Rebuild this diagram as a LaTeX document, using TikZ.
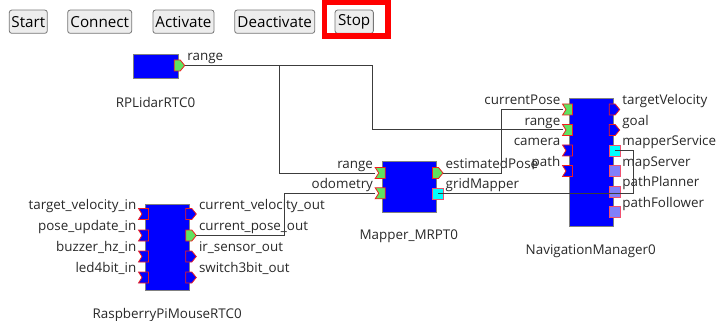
\documentclass[tikz,border=0pt]{standalone}
\usepackage{fontspec}
\setmainfont{Open Sans}
\usetikzlibrary{calc}
\definecolor{compblue}{RGB}{0,0,255}
\definecolor{compborder}{RGB}{128,128,128}
\definecolor{portgreen}{RGB}{96,226,96}
\definecolor{portred}{RGB}{240,30,30}
\definecolor{svccyan}{RGB}{0,255,255}
\definecolor{svcpurple}{RGB}{128,128,250}
\definecolor{svcborder}{RGB}{240,80,110}
\definecolor{wirecol}{RGB}{60,60,60}
\definecolor{btnfill}{RGB}{237,237,237}
\definecolor{btnborder}{RGB}{118,118,118}
\definecolor{hilite}{RGB}{255,0,0}
\definecolor{txt}{RGB}{40,40,40}

\tikzset{
  comp/.style={draw=compborder, fill=compblue, line width=0.8pt, inner sep=0pt, anchor=north west},
  portline/.style={draw=portred, line width=0.8pt, line join=miter},
  svcline/.style={draw=svcborder, line width=0.8pt},
  wire/.style={draw=wirecol, line width=1pt},
  lbl/.style={font=\fontsize{13.4}{15}\selectfont, text=txt, inner sep=0pt},
  btn/.style={draw=btnborder, fill=btnfill, rounded corners=2.5pt, line width=0.8pt,
    font=\fontsize{15.2}{17}\selectfont, text=black, inner sep=0pt, minimum height=23.3pt},
  hibox/.style={draw=hilite, line width=5.5pt}
}

\newcommand\inport[4]{%
  \coordinate (#1) at ({#2-6.5},#3);
  \filldraw[portline,fill=#4] ({#2-6.5},{#3-5.5}) -- ({#2+3.5},{#3-5.5}) -- ({#2+3.5},{#3+5.5}) -- ({#2-6.5},{#3+5.5}) -- ({#2-3},#3) -- cycle;}
\newcommand\outport[4]{%
  \coordinate (#1) at ({#2+7},#3);
  \filldraw[portline,fill=#4] ({#2-3.5},{#3-5.5}) -- ({#2+2.5},{#3-5.5}) -- ({#2+7},#3) -- ({#2+2.5},{#3+5.5}) -- ({#2-3.5},{#3+5.5}) -- cycle;}
\newcommand\svcport[4]{%
  \coordinate (#1) at ({#2+2},#3);
  \filldraw[svcline,fill=#4] ({#2-3.5},{#3-5.5}) rectangle ({#2+7.5},{#3+5.5});}
\newcommand\inlabel[4]{\node[lbl,anchor=base east] (#1) at ({#2-8.5},{#3-5}) {#4};}
\newcommand\outlabel[4]{\node[lbl,anchor=base west] (#1) at ({#2+9.5},{#3-5}) {#4};}

\begin{document}
\begin{tikzpicture}[x=1pt,y=-1pt]
\useasboundingbox (0,0) rectangle (716,321);

% buttons
\node[btn, minimum width=38pt] (bstart) at (28.3,21.7) {Start};
\node[btn, minimum width=64pt] (bconnect) at (99.7,21.7) {Connect};
\node[btn, minimum width=61pt] (bactivate) at (183.5,21.7) {Activate};
\node[btn, minimum width=80pt] (bdeactivate) at (274.7,21.7) {Deactivate};
\node[btn, minimum width=38.3pt] (bstop) at (354.2,21.7) {Stop};
\node[hibox, minimum width=63.5pt, minimum height=33.7pt, inner sep=0pt] (stophi) at (356.25,19.35) {};

% RPLidarRTC0
\node[comp, minimum width=44.4pt, minimum height=23.7pt] (lidar) at (133.3,54.3) {};
\outport{lidarRange}{177.7}{65.5}{portgreen}
\outlabel{lidarRangeL}{177.7}{65.5}{range}
\node[lbl, anchor=base] (lidarName) at (155.5,108) {RPLidarRTC0};

% Mapper_MRPT0
\node[comp, minimum width=54.3pt, minimum height=50.7pt] (mapper) at (381.7,161) {};
\inport{mapRangeIn}{381.7}{173}{portgreen}
\inport{mapOdomIn}{381.7}{193.3}{portgreen}
\outport{mapEst}{436}{173}{portgreen}
\svcport{mapGrid}{436}{193.5}{svccyan}
\inlabel{mapRangeL}{381.7}{173}{range}
\inlabel{mapOdomL}{381.7}{193.3}{odometry}
\outlabel{mapEstL}{436}{173}{estimatedPose}
\outlabel{mapGridL}{436}{193.5}{gridMapper}
\node[lbl, anchor=base] (mapName) at (408.8,240) {Mapper\_MRPT0};

% NavigationManager0
\node[comp, minimum width=43.7pt, minimum height=127.4pt] (nav) at (569,98.3) {};
\inport{navPoseIn}{569}{109.5}{portgreen}
\inport{navRangeIn}{569}{130}{portgreen}
\inport{navCamIn}{569}{150.5}{compblue}
\inport{navPathIn}{569}{171}{compblue}
\outport{navVel}{612.7}{109.5}{compblue}
\outport{navGoal}{612.7}{130}{compblue}
\svcport{navMapperSvc}{612.7}{150.5}{svccyan}
\svcport{navMapSrv}{612.7}{171.2}{svcpurple}
\svcport{navPlanner}{612.7}{191.7}{svcpurple}
\svcport{navFollower}{612.7}{212.2}{svcpurple}
\inlabel{navPoseL}{569}{109.5}{currentPose}
\inlabel{navRangeL}{569}{130}{range}
\inlabel{navCamL}{569}{150.5}{camera}
\inlabel{navPathL}{569}{171}{path}
\outlabel{navVelL}{612.7}{109.5}{targetVelocity}
\outlabel{navGoalL}{612.7}{130}{goal}
\outlabel{navMapperSvcL}{612.7}{150.5}{mapperService}
\outlabel{navMapSrvL}{612.7}{171.2}{mapServer}
\outlabel{navPlannerL}{612.7}{191.7}{pathPlanner}
\outlabel{navFollowerL}{612.7}{212.2}{pathFollower}
\node[lbl, anchor=base] (navName) at (590.8,254.5) {NavigationManager0};

% RaspberryPiMouseRTC0
\node[comp, minimum width=44.3pt, minimum height=86pt] (rasp) at (145,204) {};
\inport{raspVelIn}{145}{214}{compblue}
\inport{raspPoseIn}{145}{235.5}{compblue}
\inport{raspBuzzIn}{145}{256.5}{compblue}
\inport{raspLedIn}{145}{277.5}{compblue}
\outport{raspVelOut}{189.3}{214}{compblue}
\outport{raspPoseOut}{189.3}{235.5}{portgreen}
\outport{raspIrOut}{189.3}{256.5}{compblue}
\outport{raspSwOut}{189.3}{277.5}{compblue}
\inlabel{raspVelInL}{145}{214}{target\_velocity\_in}
\inlabel{raspPoseInL}{145}{235.5}{pose\_update\_in}
\inlabel{raspBuzzInL}{145}{256.5}{buzzer\_hz\_in}
\inlabel{raspLedInL}{145}{277.5}{led4bit\_in}
\outlabel{raspVelOutL}{189.3}{214}{current\_velocity\_out}
\outlabel{raspPoseOutL}{189.3}{235.5}{current\_pose\_out}
\outlabel{raspIrOutL}{189.3}{256.5}{ir\_sensor\_out}
\outlabel{raspSwOutL}{189.3}{277.5}{switch3bit\_out}
\node[lbl, anchor=base] (raspName) at (167.2,318.3) {RaspberryPiMouseRTC0};

% connectors
\draw[wire] (lidarRange) -- ++(94.6,0) |- (mapRangeIn);
\draw[wire] (lidarRange) -- ++(188,0) |- (navRangeIn);
\draw[wire] (raspPoseOut) -- ++(88.5,0) |- (mapOdomIn);
\draw[wire] (mapEst) -- ++(58.7,0) |- (navPoseIn);
\draw[wire] (mapGrid) -- ++(195.5,0) |- (navMapperSvc);
\end{tikzpicture}
\end{document}
